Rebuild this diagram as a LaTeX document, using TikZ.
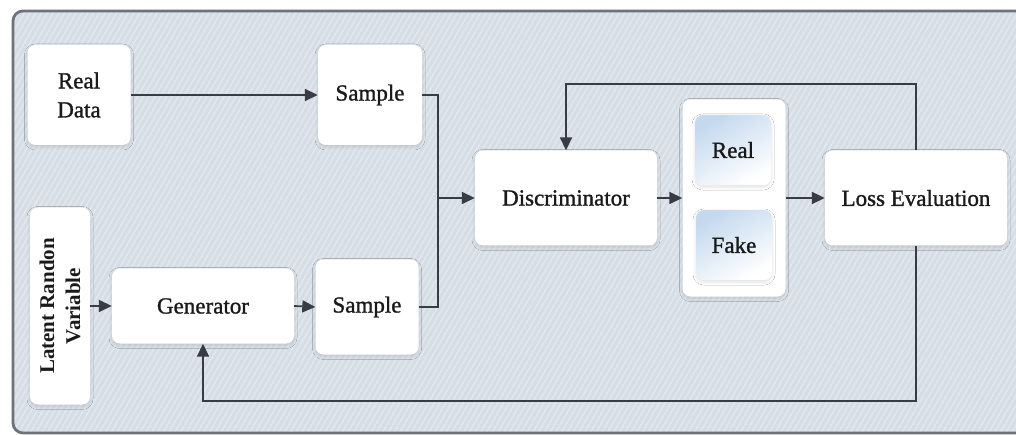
\documentclass[tikz,border=0pt]{standalone}
\usepackage{fontspec}
\setmainfont{Liberation Serif}
\newfontfamily\lblfont{Liberation Serif}[FakeBold=1.2]
\usetikzlibrary{arrows.meta,shadows.blur,patterns.meta}
\definecolor{panelbg}{HTML}{D6DDE5}
\definecolor{panelrim}{HTML}{6E7279}
\definecolor{wire}{HTML}{383D45}
\definecolor{inkc}{HTML}{1A1A1A}
\definecolor{tintblue}{HTML}{C4D9EE}
\tikzset{
  card/.style={rounded corners=8pt, fill=white, draw=none,
    blur shadow={shadow xshift=0pt, shadow yshift=-2pt, shadow blur radius=3pt, shadow blur steps=8, shadow opacity=12},
    font=\lblfont\fontsize{23}{29}\selectfont, text=inkc, align=center, inner sep=0pt},
  tinted/.style={card, shading=axis, top color=tintblue, bottom color=white, shading angle=30},
  link/.style={draw=wire, line width=1.7pt, -{Triangle[length=13pt,width=12pt]}},
  plain/.style={draw=wire, line width=1.7pt},
}
\begin{document}
\begin{tikzpicture}[x=1pt,y=-1pt]
\useasboundingbox (0,0) rectangle (1016,435);
\clip (0,0) rectangle (1016,435);
\fill[white] (0,0) rectangle (1016,435);
% panel with faint diagonal stripes
\path[rounded corners=10pt, fill=panelbg] (13,11) rectangle (1040,433);
\path[rounded corners=10pt, pattern={Lines[angle=60,distance=5pt,line width=1.4pt]}, pattern color=white!35!panelbg] (13,11) rectangle (1040,433);
\draw[rounded corners=10pt, draw=panelrim, line width=2.8pt] (13,11) rectangle (1040,433);

% boxes
\node[card, minimum width=103pt, minimum height=100pt] (rd) at (79,95) {Real\\Data};
\node[card, minimum width=104pt, minimum height=100pt] (s1) at (370,95) {Sample};
\node[card, minimum width=60pt, minimum height=197pt] (latbox) at (60,306) {};
\node[rotate=90, font=\bfseries\fontsize{21}{26}\selectfont, text=inkc, align=center] (lat) at (60,306) {Latent Randon\\Variable};
\node[card, minimum width=182pt, minimum height=75pt] (gen) at (203,306) {Generator};
\node[card, minimum width=103pt, minimum height=95pt] (s2) at (367,307) {Sample};
\node[card, minimum width=182pt, minimum height=95pt] (disc) at (566,198) {Discriminator};
\node[card, minimum width=103pt, minimum height=197pt] (rf) at (734,198) {};
\node[tinted, minimum width=76pt, minimum height=70pt] (real) at (733,150) {Real};
\node[tinted, minimum width=76pt, minimum height=70pt] (fake) at (734,245) {Fake};
\node[card, minimum width=182pt, minimum height=95pt] (loss) at (916,198) {Loss Evaluation};

% junction where both samples meet
\coordinate (join) at (438,198);

% connectors
\draw[link] (rd.east) -- (s1.west);
\draw[plain] (s1.east) -- (join |- s1.east) -- (join |- s2.east) -- (s2.east);
\draw[link] (join) -- (disc.west);
\draw[link] (latbox.east) -- (gen.west);
\draw[link] (gen.east) -- (s2.west);
\draw[link] (disc.east) -- (rf.west);
\draw[link] (rf.east) -- (loss.west);
\draw[link] (loss.north) -- ++(0,-66) -| (disc.north);
\draw[link] (loss.south) -- ++(0,155) -| (gen.south);
\end{tikzpicture}
\end{document}
